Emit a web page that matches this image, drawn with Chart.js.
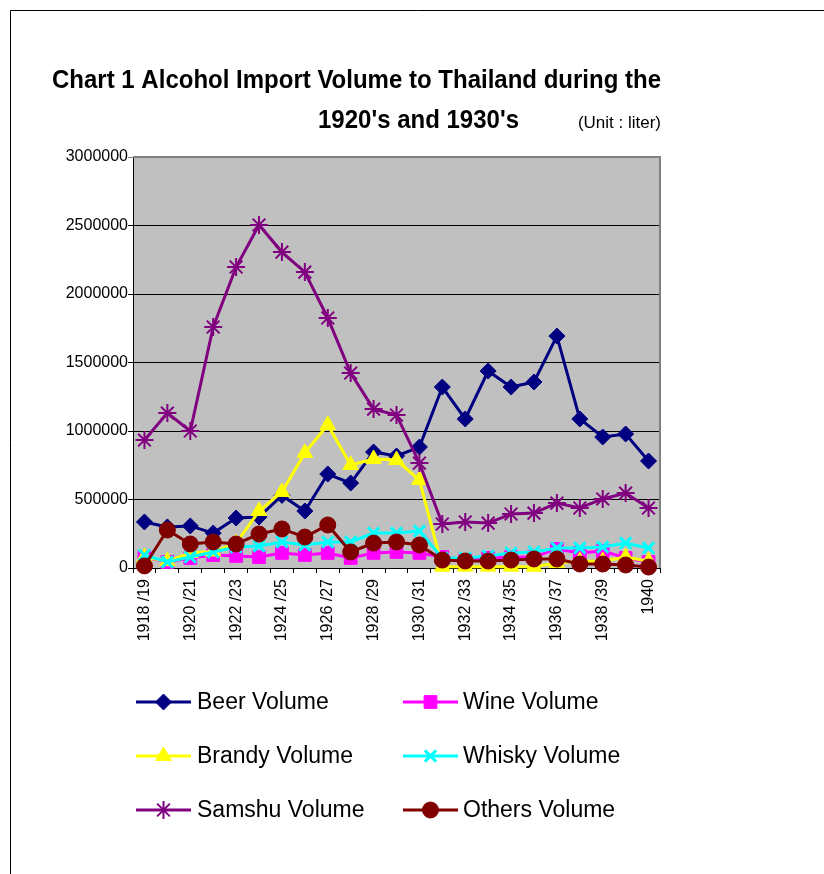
<!DOCTYPE html>
<html lang="en">
<head>
    <meta charset="UTF-8">
    <title>Chart 1 Alcohol Import Volume</title>
    <script src="https://cdn.jsdelivr.net/npm/chart.js"></script>
    <style>
        body { margin: 0; background: #fff; }
        #wrap { position: relative; width: 824px; height: 874px; }
    </style>
</head>
<body>
    <div id="wrap">
        <canvas id="alcoholChart" width="824" height="874"></canvas>
    </div>

    <script>
        // === Data (liters) ===
        const years = ['1918 /19', '1919 /20', '1920 /21', '1921 /22', '1922 /23', '1923 /24', '1924 /25', '1925 /26',
            '1926 /27', '1927 /28', '1928 /29', '1929 /30', '1930 /31', '1931 /32', '1932 /33', '1933 /34',
            '1934 /35', '1935 /36', '1936 /37', '1937 /38', '1938 /39', '1939 /40', '1940'];

        const beer = [336000, 300000, 307000, 255000, 365000, 372000, 530000, 416000, 686000, 620000, 847000, 818000,
            883000, 1321000, 1088000, 1438000, 1321000, 1358000, 1693000, 1088000, 956000, 978000, 781000];
        const wine = [80000, 44000, 73000, 95000, 88000, 80000, 110000, 95000, 110000, 73000, 110000, 117000,
            110000, 80000, 58000, 73000, 80000, 80000, 139000, 110000, 124000, 73000, 44000];
        const brandy = [80000, 50000, 110000, 120000, 180000, 416000, 555000, 840000, 1044000, 752000, 796000, 788000,
            642000, 10000, 10000, 10000, 10000, 10000, 36000, 50000, 50000, 80000, 50000];
        const whisky = [95000, 44000, 80000, 117000, 153000, 160000, 190000, 168000, 190000, 190000, 255000, 255000,
            270000, 73000, 73000, 88000, 110000, 117000, 146000, 146000, 153000, 182000, 146000];
        const samshu = [934000, 1131000, 1000000, 1759000, 2197000, 2504000, 2306000, 2160000, 1825000, 1423000, 1160000, 1117000,
            766000, 321000, 336000, 328000, 394000, 401000, 474000, 438000, 504000, 547000, 438000];
        const others = [15000, 277000, 175000, 190000, 175000, 248000, 285000, 226000, 314000, 117000, 182000, 190000,
            168000, 58000, 51000, 51000, 58000, 66000, 66000, 29000, 29000, 22000, 7000];

        const FONT = "'Liberation Sans', Arial, sans-serif";

        function series(label, data, color, style, radius, bw, order) {
            return {
                label: label,
                data: data,
                borderColor: color,
                backgroundColor: color,
                borderWidth: 3,
                pointStyle: style,
                pointRadius: radius,
                pointHoverRadius: radius,
                pointBorderWidth: bw,
                tension: 0,
                clip: false,
                order: order
            };
        }

        const datasets = [
            series('Beer Volume', beer, '#000080', 'rectRot', 8, 1, 6),
            series('Wine Volume', wine, '#FF00FF', 'rect', 9, 1, 5),
            series('Brandy Volume', brandy, '#FFFF00', 'triangle', 9, 1, 4),
            series('Whisky Volume', whisky, '#00FFFF', 'crossRot', 8, 3, 3),
            series('Samshu Volume', samshu, '#800080', 'star', 9, 2, 2),
            series('Others Volume', others, '#800000', 'circle', 8, 1, 1)
        ];

        // === Plot background, frame, titles and legend ===
        const decor = {
            id: 'decor',
            beforeDraw(chart) {
                const { ctx, chartArea: a } = chart;
                ctx.save();
                ctx.fillStyle = '#C0C0C0';
                ctx.fillRect(a.left, a.top, a.right - a.left, a.bottom - a.top);
                ctx.restore();
            },
            afterDatasetsDraw(chart) {
                const { ctx, chartArea: a } = chart;
                ctx.save();
                ctx.strokeStyle = '#808080';
                ctx.lineWidth = 2;
                ctx.beginPath();
                ctx.moveTo(a.left, a.top);
                ctx.lineTo(a.right, a.top);
                ctx.lineTo(a.right, a.bottom);
                ctx.stroke();
                ctx.restore();
            },
            afterDraw(chart) {
                const ctx = chart.ctx;
                ctx.save();
                // outer frame
                ctx.strokeStyle = '#000';
                ctx.lineWidth = 1;
                ctx.beginPath();
                ctx.moveTo(10.5, 874);
                ctx.lineTo(10.5, 10.5);
                ctx.lineTo(824, 10.5);
                ctx.stroke();

                // titles
                ctx.fillStyle = '#000';
                ctx.textAlign = 'right';
                ctx.textBaseline = 'alphabetic';
                ctx.font = 'bold 26px ' + FONT;
                ctx.fillText('Chart 1 Alcohol Import Volume to Thailand during the', 661, 88, 609);
                ctx.fillText("1920's and 1930's", 519, 128, 201);
                ctx.font = '17px ' + FONT;
                ctx.fillText('(Unit : liter)', 661, 128, 99);

                // legend
                const rows = [702, 756, 810];
                const cols = [{ x1: 136, x2: 191, tx: 197 }, { x1: 403, x2: 458, tx: 463 }];
                ctx.font = '23px ' + FONT;
                ctx.textAlign = 'left';
                ctx.textBaseline = 'middle';
                chart.data.datasets.forEach((ds, i) => {
                    const c = cols[i % 2];
                    const y = rows[Math.floor(i / 2)];
                    ctx.strokeStyle = ds.borderColor;
                    ctx.lineWidth = 3;
                    ctx.beginPath();
                    ctx.moveTo(c.x1, y);
                    ctx.lineTo(c.x2, y);
                    ctx.stroke();
                    ctx.fillStyle = ds.backgroundColor;
                    ctx.lineWidth = ds.pointBorderWidth;
                    Chart.helpers.drawPoint(ctx, {
                        pointStyle: ds.pointStyle,
                        radius: ds.pointRadius,
                        rotation: 0,
                        borderWidth: ds.pointBorderWidth
                    }, (c.x1 + c.x2) / 2, y);
                    ctx.fillStyle = '#000';
                    ctx.fillText(ds.label, c.tx, y + 1);
                });
                ctx.restore();
            }
        };

        const ctx = document.getElementById('alcoholChart').getContext('2d');
        new Chart(ctx, {
            type: 'line',
            data: {
                labels: years,
                datasets: datasets
            },
            options: {
                responsive: false,
                animation: false,
                layout: {
                    padding: { top: 157, right: 164, left: 0, bottom: 0 }
                },
                plugins: {
                    legend: { display: false },
                    title: { display: false },
                    tooltip: { enabled: false }
                },
                scales: {
                    x: {
                        offset: true,
                        afterFit(scale) { scale.height = 306; },
                        grid: {
                            offset: true,
                            drawOnChartArea: false,
                            drawTicks: true,
                            tickLength: 5,
                            color: '#000'
                        },
                        border: { color: '#000', width: 1 },
                        ticks: {
                            autoSkip: false,
                            minRotation: 90,
                            maxRotation: 90,
                            padding: 6,
                            color: '#000',
                            font: { family: FONT, size: 16 },
                            callback: function (v, i) {
                                return i % 2 === 0 ? this.getLabelForValue(v) : '';
                            }
                        }
                    },
                    y: {
                        min: 0,
                        max: 3000000,
                        afterFit(scale) { scale.width = 133; },
                        grid: {
                            color: c => (c.tick && c.tick.value === 3000000) ? '#808080' : '#000',
                            tickLength: 5,
                            lineWidth: 1
                        },
                        border: { color: '#000', width: 1 },
                        ticks: {
                            stepSize: 500000,
                            padding: 0,
                            color: '#000',
                            font: { family: FONT, size: 16 },
                            callback: v => String(v)
                        }
                    }
                }
            },
            plugins: [decor]
        });
    </script>
</body>
</html>
